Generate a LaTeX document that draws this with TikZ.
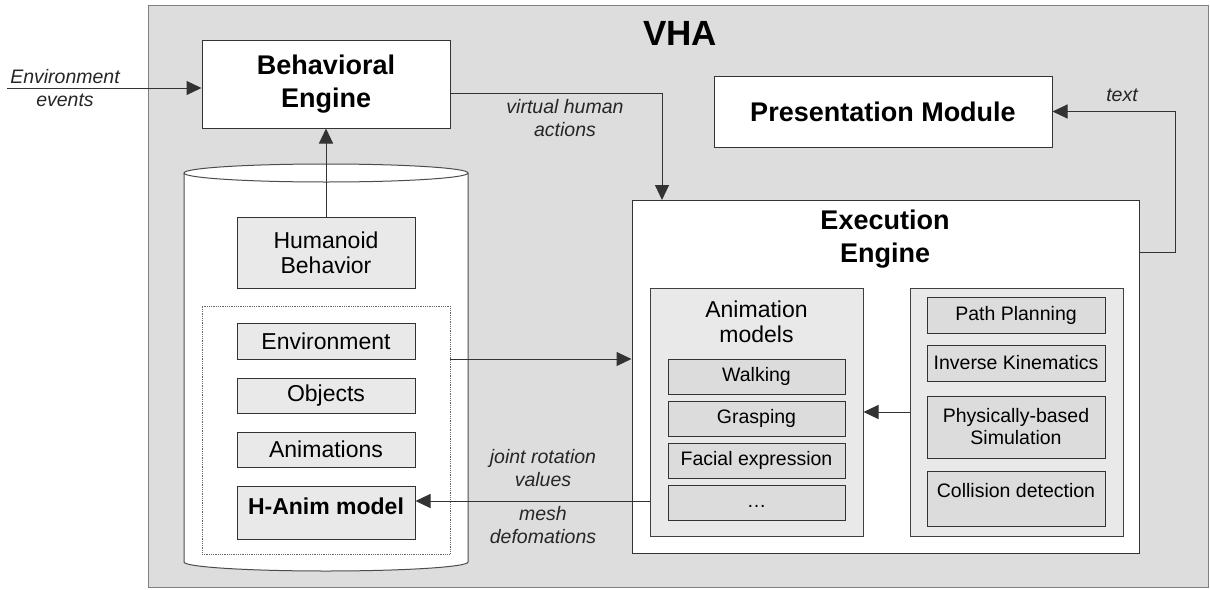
\documentclass[tikz,border=0pt]{standalone}
\usepackage{fontspec}
\setmainfont{Liberation Sans}
\usetikzlibrary{arrows.meta, positioning}
\definecolor{vhagray}{HTML}{DDDDDD}
\definecolor{boxgray}{HTML}{E9E9E9}
\definecolor{itemgray}{HTML}{DCDCDC}

\begin{document}
\begin{tikzpicture}[x=1pt, y=-1pt,
    every node/.style={inner sep=0pt, align=center},
    engine/.style={draw=black!80, fill=white, line width=1pt, font=\fontsize{27}{33}\selectfont\bfseries},
    store/.style={draw=black!80, fill=boxgray, line width=1pt, minimum width=178pt, font=\fontsize{23}{25}\selectfont},
    group/.style={draw=black!75, fill=boxgray, line width=1pt, minimum width=213pt, minimum height=248pt},
    item/.style={draw=black!80, fill=itemgray, line width=1pt, minimum width=177pt, minimum height=35pt, font=\fontsize{19.5}{22}\selectfont},
    lbl/.style={font=\fontsize{19.5}{23}\selectfont\itshape, text=black!85},
    arr/.style={-{Triangle[length=15pt,width=14pt]}, line width=1pt, draw=black!80}]
    \useasboundingbox (0,0) rectangle (1210,589);
    \node[draw=black!50, fill=vhagray, line width=1pt, minimum width=1060pt, minimum height=582pt] (VHA) at (678,296) {};
    \node[font=\fontsize{35}{40}\selectfont\bfseries] (VHAt) at (680,33) {VHA};
    \node[engine, minimum width=248pt, minimum height=88pt] (BE) at (326,84) {Behavioral\\Engine};
    \node[engine, minimum width=338pt, minimum height=71pt] (PM) at (883,111.5) {Presentation Module};
    \node[engine, minimum width=507pt, minimum height=353pt] (EE) at (885.5,376.5) {};
    \node[font=\fontsize{27}{33}\selectfont\bfseries] (EEt) at (885,239) {Execution\\Engine};

    \path[draw=black!70, fill=white, line width=1pt] (184,173) -- (184,562) arc[start angle=180, end angle=360, x radius=142pt, y radius=9pt] -- (468,173);
    \draw[black!70, fill=white, line width=1pt] (326,173) ellipse [x radius=142pt, y radius=9pt];
    \node[store, minimum height=71pt] (HB) at (326,252.5) {Humanoid\\Behavior};
    \node[draw=black!60, densely dotted, line width=0.8pt, minimum width=248pt, minimum height=248pt] (DB) at (326,430) {};
    \node[store, minimum height=36pt] (Env) at (326,341) {Environment};
    \node[store, minimum height=35pt, below=18pt of Env] (Obj) {Objects};
    \node[store, minimum height=35pt, below=18pt of Obj] (Ani) {Animations};
    \node[store, minimum height=53pt, below=18pt of Ani, font=\fontsize{23}{25}\selectfont\bfseries, text height=17pt, text depth=13.5pt] (HA) {H-Anim model};

    \node[group] (AM) at (756.5,412) {};
    \node[font=\fontsize{23}{25}\selectfont] (AMt) at (756.5,322) {Animation\\models};
    \node[item] (Wk) at (756.5,376.5) {Walking};
    \node[item, below=6pt of Wk] (Gr) {Grasping};
    \node[item, below=6pt of Gr] (Fe) {Facial expression};
    \node[item, below=6pt of Fe, text height=14pt, text depth=4pt] (Dt) {\ldots};

    \node[group] (AL) at (1016.5,412) {};
    \node[item, minimum width=178pt, minimum height=36pt] (PP) at (1016,315) {Path Planning};
    \node[item, minimum width=178pt, minimum height=36pt, below=11pt of PP] (IK) {Inverse Kinematics};
    \node[item, minimum width=178pt, minimum height=62pt, below=14pt of IK] (PS) {Physically-based\\Simulation};
    \node[item, minimum width=178pt, minimum height=55pt, below=12pt of PS, text height=14pt, text depth=17pt] (CD) {Collision detection};

    \coordinate (EvIn) at (7,88);
    \coordinate (BEo) at (450,93);
    \coordinate (EEn) at (662,200);
    \coordinate (EEo) at (1139,252);
    \coordinate (DBo) at (450,359);
    \coordinate (AMo) at (650,501);
    \draw[arr] (EvIn) -- (EvIn -| BE.west);
    \draw[arr] (HB.north) -- (BE.south);
    \draw[arr] (BEo) -| (EEn);
    \draw[arr] (EEo) -- ++(36,0) |- (PM.east);
    \draw[arr] (DBo) -- (DBo -| EE.west);
    \draw[arr] (AL.west) -- (AM.east);
    \draw[arr] (AMo) -- (AMo -| HA.east);
    \node[lbl] (EvL) at (65,88) {Environment\\events};
    \node[lbl] (VhL) at (565,118) {virtual human\\actions};
    \node[lbl] (TxL) at (1122,95) {text};
    \node[lbl] (JrL) at (543,468) {joint rotation\\values};
    \node[lbl] (MdL) at (543,525) {mesh\\defomations};
\end{tikzpicture}
\end{document}
